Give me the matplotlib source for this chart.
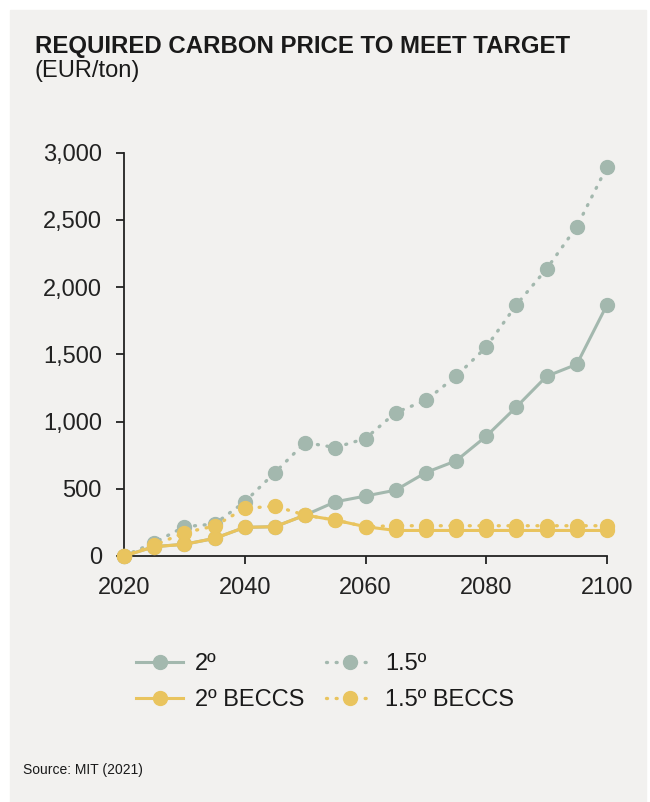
import matplotlib
matplotlib.use("Agg")
import matplotlib.pyplot as plt
from matplotlib.ticker import FuncFormatter

plt.rcParams['font.family'] = ['Liberation Sans', 'DejaVu Sans']

years = [2020, 2025, 2030, 2035, 2040, 2045, 2050, 2055, 2060, 2065, 2070,
         2075, 2080, 2085, 2090, 2095, 2100]

# EUR/ton per scenario
price_2 = [0, 70, 87, 131, 213, 218, 304, 403, 446, 490, 621, 708, 891,
           1109, 1337, 1426, 1869]
price_15 = [0, 99, 218, 238, 403, 621, 844, 807, 874, 1067, 1158, 1337,
            1554, 1869, 2136, 2450, 2896]
price_2_beccs = [0, 69, 87, 131, 213, 218, 304, 267, 218, 190, 190, 190,
                 190, 190, 190, 190, 190]
price_15_beccs = [0, 80, 173, 223, 354, 371, 304, 267, 218, 225, 225, 225,
                  225, 225, 225, 225, 225]

labels = ['2º', '1.5º', '2º BECCS', '1.5º BECCS']

GREY = '#a3b8ae'
YELLOW = '#e9c45e'
BG = '#f2f1ef'

fig = plt.figure(figsize=(6.5, 8.02), dpi=100)
fig.patch.set_facecolor('white')
fig.patches.append(plt.Rectangle((10 / 650, 0), 636 / 650, 1 - 10 / 802,
                                 transform=fig.transFigure, color=BG,
                                 zorder=-10))

ax = fig.add_axes([124 / 650, 1 - 556 / 802, (607 - 124) / 650, (556 - 152.7) / 802])
ax.set_facecolor(BG)

solid = dict(lw=2.2, marker='o', ms=10, clip_on=False)
dotted = dict(lw=2.4, ls=(0, (0.3, 2.6)), dash_capstyle='round', marker='o',
              ms=10, clip_on=False)

ax.plot(years, price_2, color=GREY, label=labels[0], zorder=3, **solid)
ax.plot(years, price_15, color=GREY, label=labels[1], zorder=3, **dotted)
ax.plot(years, price_2_beccs, color=YELLOW, label=labels[2], zorder=4, **solid)
ax.plot(years, price_15_beccs, color=YELLOW, label=labels[3], zorder=4, **dotted)

ax.set_xlim(2020, 2100)
ax.set_ylim(0, 3000)
ax.set_xticks([2020, 2040, 2060, 2080, 2100])
ax.set_yticks(range(0, 3001, 500))
ax.yaxis.set_major_formatter(FuncFormatter(lambda v, p: f'{int(v):,}'))

for s in ['top', 'right']:
    ax.spines[s].set_visible(False)
for s in ['left', 'bottom']:
    ax.spines[s].set_color('#222222')
    ax.spines[s].set_linewidth(1.3)
ax.tick_params(axis='both', labelsize=17, colors='#222222', length=6,
               width=1.3, labelcolor='#222222')
ax.tick_params(axis='y', pad=10)
ax.tick_params(axis='x', pad=9)

fig.text(35 / 650, 1 - 35 / 802, 'REQUIRED CARBON PRICE TO MEET TARGET',
         fontsize=17.3, fontweight='bold', color='#1a1a1a', va='top',
         ha='left')
fig.text(35 / 650, 1 - 60 / 802, '(EUR/ton)', fontsize=17, color='#1a1a1a',
         va='top', ha='left')
fig.text(23 / 650, 1 - 770 / 802, 'Source: MIT (2021)', fontsize=10,
         color='#1a1a1a', va='center', ha='left')

# row-major order: 2º, 1.5º on top, BECCS variants below
handles, leg_labels = ax.get_legend_handles_labels()
order = [0, 2, 1, 3]
fig.legend([handles[i] for i in order], [leg_labels[i] for i in order],
           loc='upper left', bbox_to_anchor=(115 / 650, 1 - 632 / 802),
           ncol=2, frameon=False, fontsize=17, handlelength=2.0,
           handletextpad=0.5, columnspacing=0.9, labelspacing=0.6,
           labelcolor='#1a1a1a')

fig.savefig('out.png', dpi=100, facecolor=fig.get_facecolor())
